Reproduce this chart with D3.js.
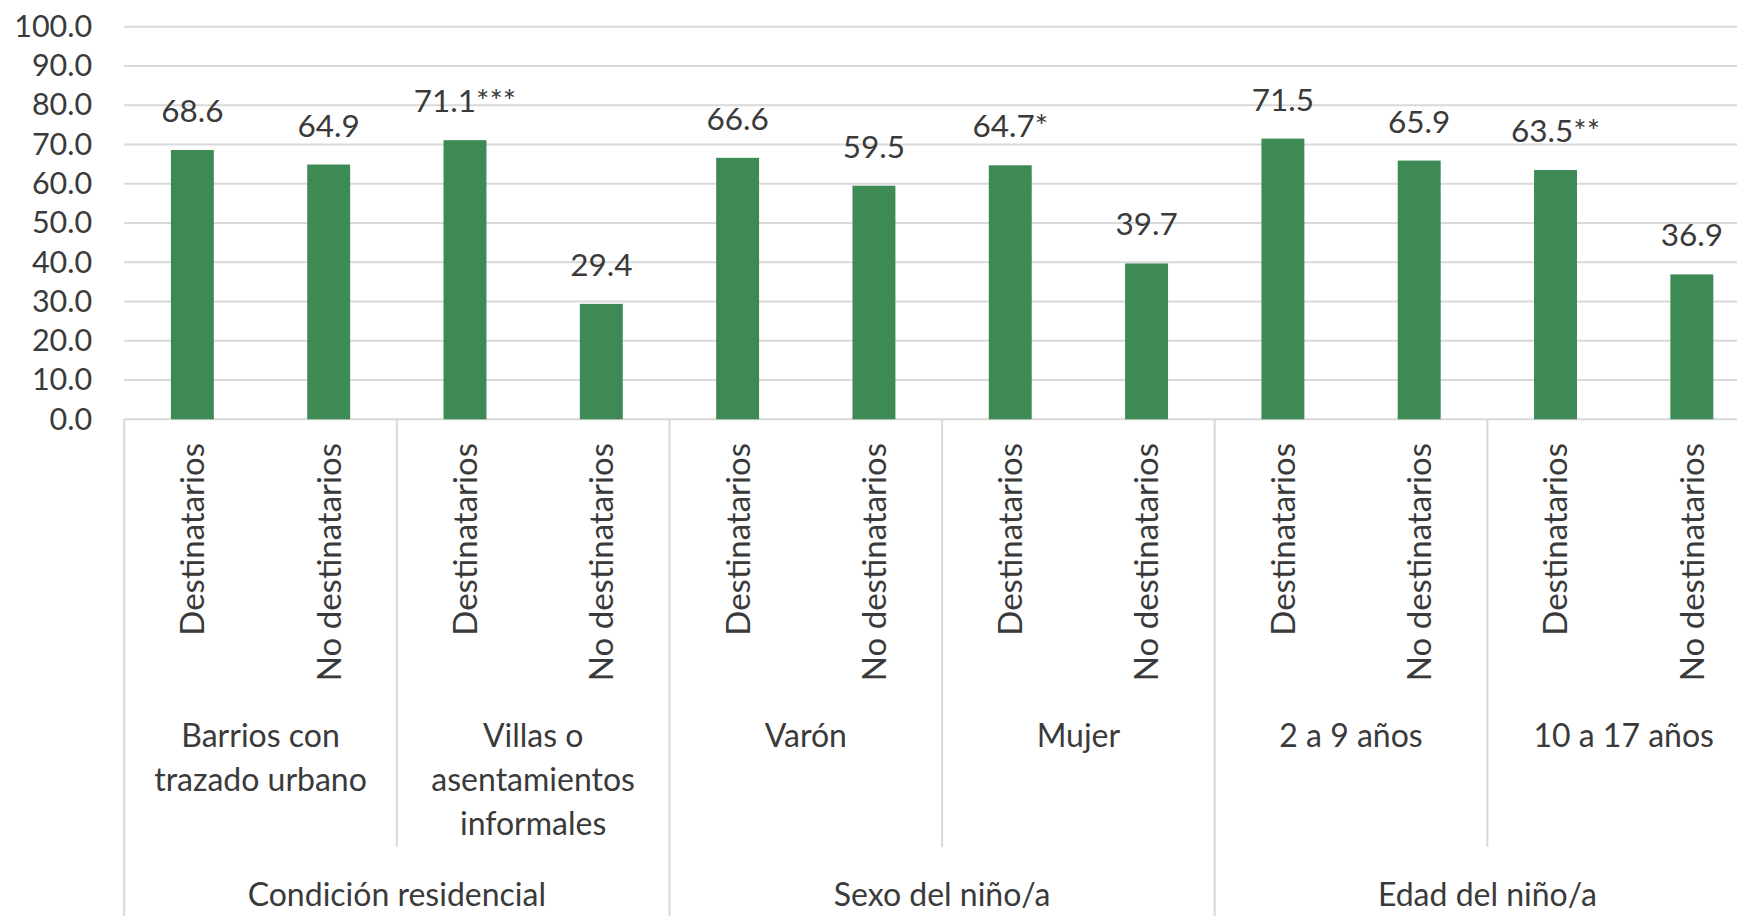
<!DOCTYPE html>
<html>
<head>
<meta charset="utf-8">
<script src="https://cdn.jsdelivr.net/npm/d3@7"></script>
<style>
  html, body { margin: 0; padding: 0; background: #fff; overflow: hidden; }
  text { font-family: Lato, "Open Sans", sans-serif; fill: #3a3a3a; }
</style>
</head>
<body>
<div id="chart"></div>
<script>
// data
const barLabels = ["Destinatarios", "No destinatarios", "Destinatarios", "No destinatarios",
    "Destinatarios", "No destinatarios", "Destinatarios", "No destinatarios",
    "Destinatarios", "No destinatarios", "Destinatarios", "No destinatarios"];
const values = [68.6, 64.9, 71.1, 29.4, 66.6, 59.5, 64.7, 39.7, 71.5, 65.9, 63.5, 36.9];
const marks = ["", "", "***", "", "", "", "*", "", "", "", "**", ""];
const groups = [["Barrios con", "trazado urbano"], ["Villas o", "asentamientos", "informales"],
    ["Varón"], ["Mujer"], ["2 a 9 años"], ["10 a 17 años"]];
const topGroups = ["Condición residencial", "Sexo del niño/a", "Edad del niño/a"];
const yTicks = [0, 10, 20, 30, 40, 50, 60, 70, 80, 90, 100];

// set up svg
const W = 1737, H = 916;
const plotLeft = 124.2, plotRight = 1760, plotTop = 26.7, plotBase = 419.3;

const svg = d3.select("#chart")
    .append("svg")
    .attr("width", W)
    .attr("height", H);

const x = d3.scaleBand()
    .domain(values.map((d, i) => i))
    .range([plotLeft, plotRight])
    .paddingInner(0.685)
    .paddingOuter(0.3425);

const xGroup = d3.scaleBand()
    .domain(groups.map((d, i) => i))
    .range([plotLeft, plotRight]);

const xTop = d3.scaleBand()
    .domain(topGroups.map((d, i) => i))
    .range([plotLeft, plotRight]);

const y = d3.scaleLinear()
    .domain([0, 100])
    .range([plotBase, plotTop]);

// gridlines
svg.append("g")
    .selectAll("line")
    .data(yTicks)
    .enter()
    .append("line")
    .attr("x1", plotLeft)
    .attr("x2", plotRight)
    .attr("y1", d => y(d))
    .attr("y2", d => y(d))
    .style("stroke", "#d9d9d9")
    .style("stroke-width", 2);

// y axis labels
const yAxis = svg.append("g")
    .attr("transform", "translate(" + (plotLeft - 32) + ",0)")
    .call(d3.axisLeft(y).tickValues(yTicks).tickFormat(d3.format(".1f")).tickSize(0).tickPadding(0));
yAxis.select(".domain").remove();
yAxis.selectAll("text")
    .style("font-size", "30.5px")
    .style("font-family", "Lato, sans-serif")
    .attr("fill", "#3a3a3a");

// bars
svg.append("g")
    .selectAll("rect")
    .data(values)
    .enter()
    .append("rect")
    .attr("x", (d, i) => x(i))
    .attr("width", x.bandwidth())
    .attr("y", d => y(d))
    .attr("height", d => plotBase - y(d))
    .style("fill", "#3e8a55");

// value labels
svg.append("g")
    .selectAll("text")
    .data(values)
    .enter()
    .append("text")
    .attr("x", (d, i) => x(i) + x.bandwidth() / 2)
    .attr("y", d => y(d) - 28)
    .attr("text-anchor", "middle")
    .style("font-size", "31.5px")
    .text((d, i) => d.toFixed(1) + marks[i]);

// bar category labels (rotated)
svg.append("g")
    .selectAll("text")
    .data(barLabels)
    .enter()
    .append("text")
    .attr("transform", (d, i) => "translate(" + (x(i) + x.bandwidth() / 2) + ",443) rotate(-90)")
    .attr("text-anchor", "end")
    .attr("dy", "0.36em")
    .style("font-size", "33px")
    .text(d => d);

// separators
const sep = svg.append("g")
    .style("stroke", "#d9d9d9")
    .style("stroke-width", 2);

sep.selectAll(".inner")
    .data(groups.map((d, i) => i).filter(i => i % 2 === 1))
    .enter()
    .append("line")
    .attr("x1", i => xGroup(i))
    .attr("x2", i => xGroup(i))
    .attr("y1", plotBase)
    .attr("y2", 847);

sep.selectAll(".outer")
    .data(topGroups.map((d, i) => i))
    .enter()
    .append("line")
    .attr("x1", i => xTop(i))
    .attr("x2", i => xTop(i))
    .attr("y1", plotBase)
    .attr("y2", H);

// group labels
const g2 = svg.append("g")
    .selectAll("text")
    .data(groups)
    .enter()
    .append("text")
    .attr("text-anchor", "middle")
    .style("font-size", "32px");

g2.selectAll("tspan")
    .data((d, i) => d.map(line => ({ line: line, i: i })))
    .enter()
    .append("tspan")
    .attr("x", d => xGroup(d.i) + xGroup.bandwidth() / 2)
    .attr("y", (d, j) => 746.5 + j * 44)
    .text(d => d.line);

svg.append("g")
    .selectAll("text")
    .data(topGroups)
    .enter()
    .append("text")
    .attr("x", (d, i) => xTop(i) + xTop.bandwidth() / 2)
    .attr("y", 906)
    .attr("text-anchor", "middle")
    .style("font-size", "32px")
    .text(d => d);
</script>
</body>
</html>
